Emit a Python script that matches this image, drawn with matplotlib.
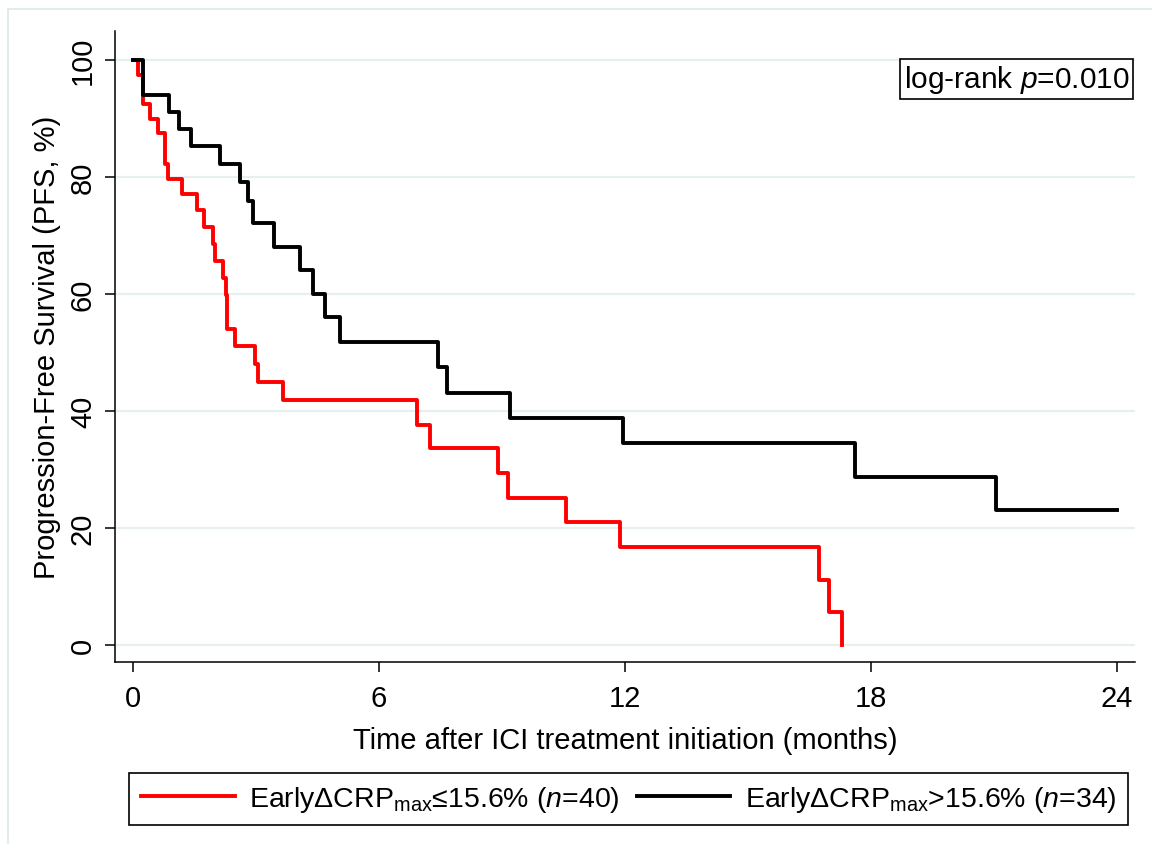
import numpy as np
import matplotlib.pyplot as plt
from matplotlib.lines import Line2D
from matplotlib.patches import Rectangle

plt.rcParams['font.family'] = ['Liberation Sans', 'DejaVu Sans']
plt.rcParams['mathtext.fontset'] = 'custom'
plt.rcParams['mathtext.rm'] = 'Liberation Sans'
plt.rcParams['mathtext.it'] = 'Liberation Sans:italic'

# Kaplan-Meier steps (months, PFS %)
low_t = [0, 0.12, 0.25, 0.42, 0.61, 0.78, 0.85, 1.2, 1.56, 1.73, 1.95, 2.0, 2.2,
         2.28, 2.3, 2.48, 2.97, 3.05, 3.66, 6.93, 7.24, 8.9, 9.15, 10.56, 11.88,
         16.73, 16.98, 17.3]
low_s = [100, 97.5, 92.5, 90.0, 87.5, 82.3, 79.7, 77.1, 74.3, 71.4, 68.5, 65.6, 62.8,
         59.9, 54.0, 51.1, 48.0, 45.0, 41.9, 37.6, 33.6, 29.4, 25.1, 21.0, 16.8,
         11.1, 5.6, 0]

high_t = [0, 0.24, 0.88, 1.13, 1.42, 2.11, 2.6, 2.8, 2.92, 3.44, 4.07, 4.4, 4.68,
          5.05, 7.44, 7.65, 9.2, 11.95, 17.6, 21.05, 24.0]
high_s = [100, 94.1, 91.2, 88.2, 85.3, 82.3, 79.2, 75.9, 72.2, 68.0, 64.1, 60.0, 56.1,
          51.8, 47.5, 43.1, 38.8, 34.6, 28.8, 23.0, 23.0]

labels = [r'Early$\Delta$CRP$_{\mathrm{max}}$≤15.6% ($n$=40)',
          r'Early$\Delta$CRP$_{\mathrm{max}}$>15.6% ($n$=34)']

fig = plt.figure(figsize=(11.52, 8.45), dpi=100)
ax = fig.add_axes([0.0998, 0.2154, 0.8854, 0.7467])

ax.step(low_t, low_s, where='post', color='red', lw=2.8)
ax.step(high_t, high_s, where='post', color='black', lw=2.8)

ax.set_xlim(-0.44, 24.44)
ax.set_ylim(-2.9, 104.96)
ax.set_xticks([0, 6, 12, 18, 24])
ax.set_yticks([0, 20, 40, 60, 80, 100])
for lab in ax.get_yticklabels():
    lab.set_rotation(90)
    lab.set_va('center')

ax.spines['top'].set_visible(False)
ax.spines['right'].set_visible(False)
ax.spines['left'].set_linewidth(1.1)
ax.spines['bottom'].set_linewidth(1.1)
ax.tick_params(direction='out', length=7, width=1.1, labelsize=21)
ax.tick_params(axis='x', pad=9)
ax.tick_params(axis='y', pad=6)
ax.yaxis.grid(True, color='#e8eff1', lw=1.6)
ax.set_axisbelow(True)

ax.set_xlabel('Time after ICI treatment initiation (months)', fontsize=21, labelpad=10)
ax.set_ylabel('Progression-Free Survival (PFS, %)', fontsize=21, labelpad=6)

fig.text(0.8828, 1 - 80 / 845, r'log-rank $p$=0.010', fontsize=21.5,
         ha='center', va='center',
         bbox=dict(boxstyle='square,pad=0.12', fc='white', ec='black', lw=1.2))

handles = [Line2D([], [], color='red', lw=2.8), Line2D([], [], color='black', lw=2.8)]
leg = fig.legend(handles, labels, ncol=2, loc='center',
                 bbox_to_anchor=((127 + 1130) / 2 / 1152, 1 - 800 / 845),
                 fancybox=False, edgecolor='black', framealpha=1, fontsize=20.5,
                 handlelength=3.3, handletextpad=0.5, columnspacing=0.6, borderpad=0.4,
                 borderaxespad=0)
leg.get_frame().set_linewidth(1.2)

fig.add_artist(Rectangle((8 / 1152, -0.1), 1.2, 1.088, fill=False, ec='#dde7ea',
                         lw=1.2, transform=fig.transFigure))

fig.savefig('out.png', dpi=100)
